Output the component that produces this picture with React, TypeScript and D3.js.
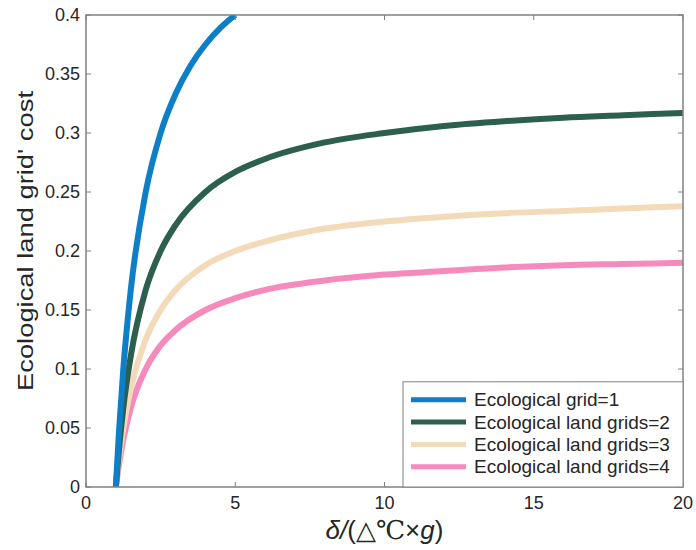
import { useEffect, useRef } from 'react';
import * as d3 from 'd3';

// values
const xBlue = [1, 1.1, 1.25, 1.5, 2, 2.5, 3, 3.5, 4, 4.5, 5];
const yBlue = [0, 0.045, 0.1, 0.167, 0.25, 0.3, 0.333, 0.357, 0.375, 0.389, 0.4];

const xRest = [1, 1.1, 1.25, 1.5, 2, 2.5, 3, 4, 5, 6, 8, 10, 12, 14, 16, 18, 20];
const yGreen = [0, 0.03, 0.067, 0.111, 0.167, 0.2, 0.222, 0.25, 0.267, 0.278, 0.292, 0.3, 0.306, 0.31, 0.313, 0.315, 0.317];
const yBeige = [0, 0.023, 0.05, 0.083, 0.125, 0.15, 0.167, 0.188, 0.2, 0.208, 0.219, 0.225, 0.229, 0.232, 0.234, 0.236, 0.238];
const yPink = [0, 0.018, 0.04, 0.067, 0.1, 0.12, 0.133, 0.15, 0.16, 0.167, 0.175, 0.18, 0.183, 0.186, 0.188, 0.189, 0.19];

const seriesNames = [
  'Ecological grid=1',
  'Ecological land grids=2',
  'Ecological land grids=3',
  'Ecological land grids=4',
];
const seriesColors = ['#0d7fc6', '#2d5f4e', '#f3dbb9', '#f78abc'];

const xTicks = [0, 5, 10, 15, 20];
const yTicks = [0, 0.05, 0.1, 0.15, 0.2, 0.25, 0.3, 0.35, 0.4];

export default function App() {
  const svgRef = useRef<SVGSVGElement>(null);

  useEffect(() => {
    if (!svgRef.current) return;
    const svg = d3.select(svgRef.current);
    svg.selectAll('*').remove();

    const width = 696;
    const height = 550;
    const margin = { top: 15, right: 13, bottom: 63, left: 86 };
    const font = 'Liberation Sans, Arial, Helvetica, sans-serif';
    const axisColor = '#808080';
    const textColor = '#262626';

    svg.attr('width', width).attr('height', height);

    const x = d3.scaleLinear().domain([0, 20]).range([margin.left, width - margin.right]);
    const y = d3.scaleLinear().domain([0, 0.4]).range([height - margin.bottom, margin.top]);

    const series = [
      xBlue.map((d, i) => [d, yBlue[i]]),
      xRest.map((d, i) => [d, yGreen[i]]),
      xRest.map((d, i) => [d, yBeige[i]]),
      xRest.map((d, i) => [d, yPink[i]]),
    ];

    const line = d3
      .line<number[]>()
      .x((d) => x(d[0]))
      .y((d) => y(d[1]))
      .curve(d3.curveMonotoneX);

    // clip so the thick lines do not spill over the box
    svg
      .append('defs')
      .append('clipPath')
      .attr('id', 'plot-clip')
      .append('rect')
      .attr('x', margin.left)
      .attr('y', margin.top)
      .attr('width', width - margin.left - margin.right)
      .attr('height', height - margin.top - margin.bottom);

    const plot = svg.append('g').attr('clip-path', 'url(#plot-clip)');
    // back to front so blue ends up on top near x=1
    [3, 2, 1, 0].forEach((i) => {
      plot
        .append('path')
        .attr('d', line(series[i]) as string)
        .attr('fill', 'none')
        .attr('stroke', seriesColors[i])
        .attr('stroke-width', 6);
    });

    // axes box
    const box = svg.append('g');
    box
      .append('rect')
      .attr('x', x(0))
      .attr('y', y(0.4))
      .attr('width', x(20) - x(0))
      .attr('height', y(0) - y(0.4))
      .attr('fill', 'none')
      .attr('stroke', axisColor)
      .attr('stroke-width', 1.5);

    const tickLen = 5;
    xTicks.forEach((t) => {
      box.append('line').attr('x1', x(t)).attr('x2', x(t)).attr('y1', y(0)).attr('y2', y(0) - tickLen).attr('stroke', axisColor);
      box.append('line').attr('x1', x(t)).attr('x2', x(t)).attr('y1', y(0.4)).attr('y2', y(0.4) + tickLen).attr('stroke', axisColor);
    });
    yTicks.forEach((t) => {
      box.append('line').attr('x1', x(0)).attr('x2', x(0) + tickLen).attr('y1', y(t)).attr('y2', y(t)).attr('stroke', axisColor);
      box.append('line').attr('x1', x(20)).attr('x2', x(20) - tickLen).attr('y1', y(t)).attr('y2', y(t)).attr('stroke', axisColor);
    });

    svg
      .append('g')
      .selectAll('text')
      .data(xTicks)
      .join('text')
      .attr('x', (d) => x(d))
      .attr('y', y(0) + 22)
      .attr('text-anchor', 'middle')
      .attr('font-family', font)
      .attr('font-size', 18)
      .attr('fill', textColor)
      .text((d) => d3.format('d')(d));

    svg
      .append('g')
      .selectAll('text')
      .data(yTicks)
      .join('text')
      .attr('x', x(0) - 6)
      .attr('y', (d) => y(d) + 6)
      .attr('text-anchor', 'end')
      .attr('font-family', font)
      .attr('font-size', 18)
      .attr('fill', textColor)
      .text((d) => String(d));

    // axis titles
    const xl = svg
      .append('text')
      .attr('x', (x(0) + x(20)) / 2)
      .attr('y', height - 11)
      .attr('text-anchor', 'middle')
      .attr('font-family', font)
      .attr('font-size', 26)
      .attr('fill', textColor);
    xl.append('tspan').attr('font-style', 'italic').text('δ/');
    xl.append('tspan').text('(△');
    xl.append('tspan').attr('font-family', 'DejaVu Serif, serif').text('℃');
    xl.append('tspan').text('×');
    xl.append('tspan').attr('font-style', 'italic').text('g');
    xl.append('tspan').text(')');

    svg
      .append('text')
      .attr('transform', `translate(33,${(y(0) + y(0.4)) / 2 - 10}) rotate(-90)`)
      .attr('text-anchor', 'middle')
      .attr('font-family', font)
      .attr('font-size', 22)
      .attr('textLength', 300)
      .attr('lengthAdjust', 'spacingAndGlyphs')
      .attr('fill', textColor)
      .text("Ecological land grid' cost");

    // legend, sits in the lower right corner of the box
    const rowH = 22.3;
    const legW = 280;
    const legH = seriesNames.length * rowH + 16;
    const lg = svg.append('g').attr('transform', `translate(${x(20) - legW},${y(0) - legH})`);
    lg.append('rect')
      .attr('width', legW)
      .attr('height', legH)
      .attr('fill', '#fff')
      .attr('stroke', axisColor)
      .attr('stroke-width', 1);
    seriesNames.forEach((name, i) => {
      const cy = 18 + i * rowH;
      lg.append('line')
        .attr('x1', 8)
        .attr('x2', 63)
        .attr('y1', cy)
        .attr('y2', cy)
        .attr('stroke', seriesColors[i])
        .attr('stroke-width', 5);
      lg.append('text')
        .attr('x', 71)
        .attr('y', cy + 6.5)
        .attr('font-family', font)
        .attr('font-size', 19)
        .attr('fill', textColor)
        .text(name);
    });
  }, []);

  return (
    <div style={{ position: 'absolute', left: 0, top: 0 }}>
      <svg ref={svgRef} />
    </div>
  );
}
